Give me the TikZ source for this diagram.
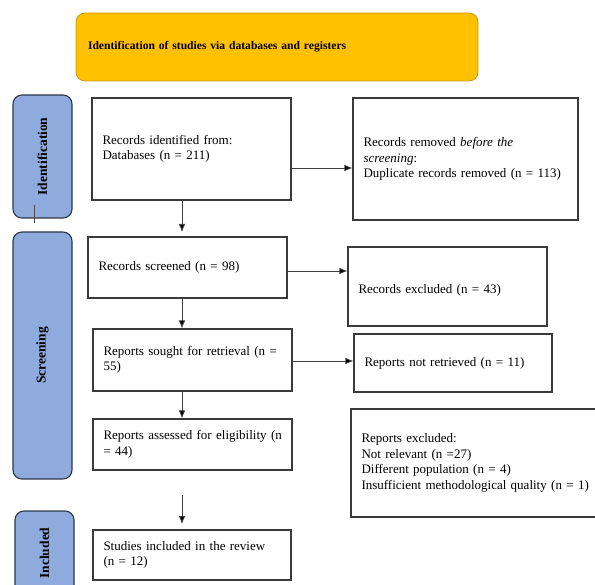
\documentclass[tikz,border=0pt]{standalone}
\usepackage{fontspec}
\setmainfont{Liberation Serif}
\usetikzlibrary{arrows.meta}
\definecolor{titlefill}{HTML}{FFC000}
\definecolor{titledraw}{HTML}{C99A10}
\definecolor{sidefill}{HTML}{8FAADC}
\definecolor{sidedraw}{HTML}{2E3645}
\definecolor{boxdraw}{HTML}{3A3A3A}
\begin{document}
\begin{tikzpicture}[x=1pt,y=-1pt,
  box/.style={draw=boxdraw, line width=1.1pt, fill=white, inner xsep=10.5pt, inner ysep=0pt,
    align=left, font=\fontsize{13}{15.5}\selectfont},
  sidebox/.style={draw=sidedraw, line width=1.1pt, fill=sidefill, rounded corners=9pt,
    inner sep=0pt},
  sidelabel/.style={rotate=90, font=\fontsize{13.5}{15}\selectfont\bfseries},
  titlebox/.style={draw=titledraw, line width=0.8pt, fill=titlefill, rounded corners=9pt,
    inner xsep=12pt, inner ysep=0pt, align=left, font=\fontsize{11.6}{14}\selectfont\bfseries},
  arr/.style={draw=black!75, line width=0.75pt, -{Latex[length=8pt,width=6.5pt,fill=black]}},
  thin line/.style={draw=black!70, line width=0.8pt}]
\useasboundingbox (0,0) rectangle (595,585);
\begin{scope}
\clip (0,0) rectangle (595,585);
% title
\node[titlebox, text width=378pt, minimum height=68pt] (title) at (277,47)
  {Identification of studies via databases and registers};
% side boxes
\node[sidebox, minimum width=59pt, minimum height=123pt] (idside) at (42.5,156.5) {};
\node[sidelabel] (idlab) at (idside.center) {Identification};
\node[sidebox, minimum width=59pt, minimum height=247pt] (scrside) at (42.5,355.5) {};
\node[sidelabel] (scrlab) at (scrside.center) {Screening};
\node[sidebox, minimum width=59pt, minimum height=100pt] (incside) at (44.5,561) {};
\node[sidelabel] (inclab) at (44.5,553) {Included};
\coordinate (t1) at (34,205);
\coordinate (t2) at (34,223);
\draw[thin line] (t1) -- (t2);
% boxes
\node[box, text width=178pt, minimum height=102pt] (b1) at (191.5,149)
  {Records identified from:\\Databases (n = 211)};
\node[box, text width=204pt, minimum height=122pt] (b2) at (465.5,159)
  {Records removed \textit{before the}\\\textit{screening}:\\Duplicate records removed (n = 113)};
\node[box, text width=178pt, minimum height=61pt] (b3) at (187.5,267.5)
  {Records screened (n = 98)};
\node[box, text width=178pt, minimum height=79pt, text height=18pt, text depth=3pt] (b4) at (447.5,286.5)
  {Records excluded (n = 43)};
\node[box, text width=178pt, minimum height=62pt] (b5) at (192.5,360)
  {\mbox{Reports sought for retrieval (n =}\\55)};
\node[box, text width=177pt, minimum height=58pt] (b6) at (453,363)
  {Reports not retrieved (n = 11)};
\node[box, text width=178pt, minimum height=51pt] (b7) at (192.5,444.5)
  {\mbox{Reports assessed for eligibility (n}\\= 44)};
\node[box, text width=233pt, minimum height=108pt] (b8) at (478,463)
  {Reports excluded:\\Not relevant (n =27)\\Different population (n = 4)\\\mbox{Insufficient methodological quality (n = 1)}};
\node[box, text width=177pt, minimum height=50pt] (b9) at (192,555)
  {Studies included in the review\\(n = 12)};
% horizontal arrows
\draw[arr] (b1.east |- 0,168) -- (b2.west |- 0,168);
\draw[arr] (b3.east |- 0,271) -- (b4.west |- 0,271);
\draw[arr] (b5.east |- 0,361) -- (b6.west |- 0,361);
% vertical arrows
\coordinate (a1s) at (182,201);
\coordinate (a1e) at (182,232);
\draw[arr] (a1s) -- (a1e);
\draw[arr] (b3.south -| 182,0) -- (b5.north -| 182,0);
\draw[arr] (b5.south -| 182,0) -- (b7.north -| 182,0);
\coordinate (a4s) at (182,495);
\coordinate (a4e) at (182,524);
\draw[arr] (a4s) -- (a4e);
\end{scope}
\end{tikzpicture}
\end{document}
